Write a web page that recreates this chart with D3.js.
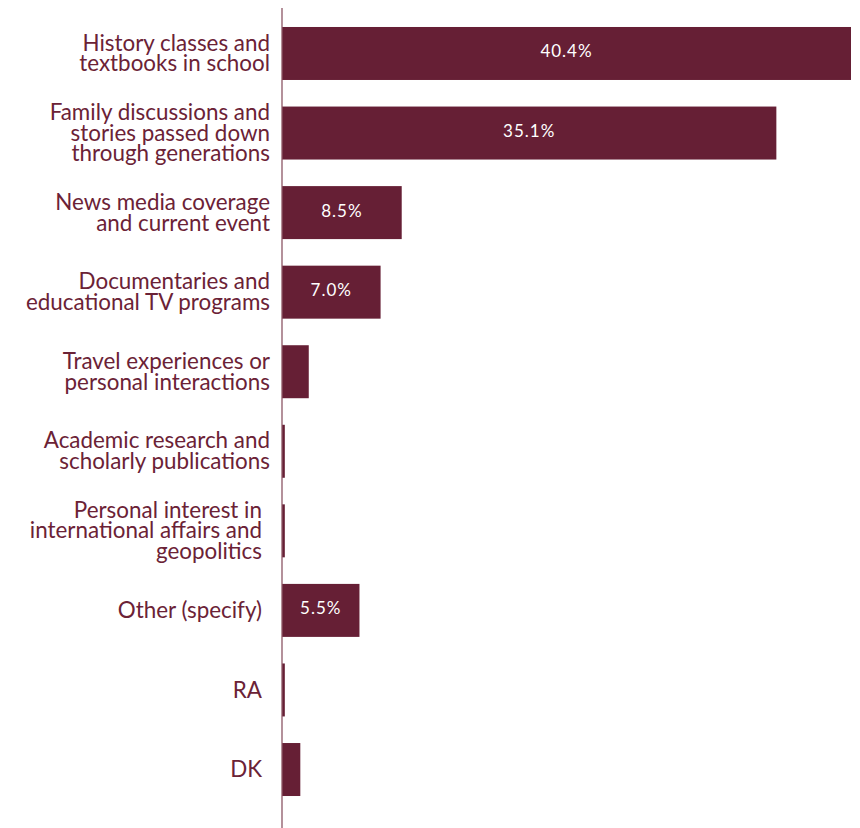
<!DOCTYPE html>
<html>
<head>
<meta charset="utf-8">
<script src="https://cdn.jsdelivr.net/npm/d3@7"></script>
<style>
  html, body { margin: 0; padding: 0; background: #fff; }
  svg { display: block; }
  .cat { font-family: Lato, "Open Sans", sans-serif; font-size: 22.4px; fill: #6b2236; }
  .val { font-family: Lato, "Open Sans", sans-serif; font-size: 17px; fill: #fff; letter-spacing: 1px; }
</style>
</head>
<body>
<svg id="chart" width="860" height="828"></svg>
<script>
// Category labels, one array entry per line of wrapped text
const categories = [
  ["History classes and", "textbooks in school"],
  ["Family discussions and", "stories passed down", "through generations"],
  ["News media coverage", "and current event"],
  ["Documentaries and", "educational TV programs"],
  ["Travel experiences or", "personal interactions"],
  ["Academic research and", "scholarly publications"],
  ["Personal interest in", "international affairs and", "geopolitics"],
  ["Other (specify)"],
  ["RA"],
  ["DK"]
];
// Share of respondents (%)
const values = [40.4, 35.1, 8.5, 7.0, 1.9, 0.2, 0.2, 5.5, 0.2, 1.3];
// Value labels shown inside the bars (empty = not shown)
const valueLabels = ["40.4%", "35.1%", "8.5%", "7.0%", "", "", "", "5.5%", "", ""];
// Extra right-side gap for labels that sit slightly further from the axis
const labelShift = [0, 0, 0, 0, 0, 0, 8, 8, 8, 8];

const svg = d3.select("#chart");
const barColor = "#661f35";
const axisX = 282;

const x = d3.scaleLinear().domain([0, 40.4]).range([axisX, 851]);
const y = d3.scaleBand()
  .domain(d3.range(values.length))
  .range([13.7, 809.3])
  .paddingInner(0.334)
  .paddingOuter(0.167);

const rows = svg.selectAll("g.row")
  .data(values.map((v, i) => ({ v, i })))
  .join("g")
  .attr("class", "row");

rows.append("rect")
  .attr("x", x(0))
  .attr("y", d => y(d.i))
  .attr("width", d => x(d.v) - x(0))
  .attr("height", y.bandwidth())
  .attr("fill", barColor);

rows.filter(d => valueLabels[d.i])
  .append("text")
  .attr("class", "val")
  .attr("x", d => (x(0) + x(d.v)) / 2)
  .attr("y", d => y(d.i) + y.bandwidth() / 2 - 2)
  .attr("dy", "0.35em")
  .attr("text-anchor", "middle")
  .text(d => valueLabels[d.i]);

const lineH = 20.8;
rows.append("text")
  .attr("class", "cat")
  .attr("text-anchor", "end")
  .each(function (d) {
    const lines = categories[d.i];
    const cy = y(d.i) + y.bandwidth() / 2;
    const n = lines.length;
    d3.select(this).selectAll("tspan")
      .data(lines)
      .join("tspan")
      .attr("x", 270 - labelShift[d.i])
      .attr("y", (t, k) => cy + (k - (n - 1) / 2) * lineH)
      .attr("dy", "0.34em")
      .text(t => t);
  });

// Vertical baseline axis
svg.append("line")
  .attr("x1", axisX).attr("x2", axisX)
  .attr("y1", 8).attr("y2", 828)
  .attr("stroke", "#8c5565")
  .attr("stroke-width", 1.3);
</script>
</body>
</html>
